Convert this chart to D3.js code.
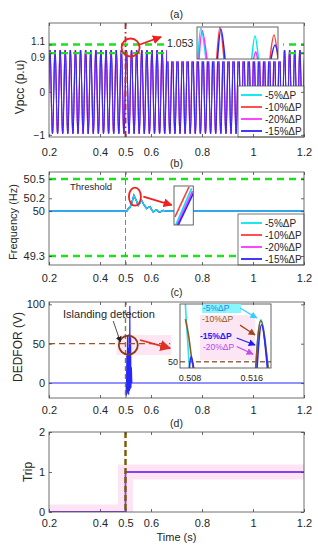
<!DOCTYPE html>
<html lang="en">
<head>
<meta charset="UTF-8">
<title>Islanding detection</title>
<script src="https://cdn.jsdelivr.net/npm/d3@7"></script>
<style>
  body { margin: 0; background: #fff; overflow: hidden; }
  svg text { font-family: "Liberation Sans", Arial, sans-serif; fill: #262626; }
</style>
</head>
<body>
<div id="chart"></div>
<script>
// ---- values ----
const timeTicks = [0.2, 0.4, 0.5, 0.6, 0.8, 1, 1.2];
const seriesNames = ['-5%ΔP', '-10%ΔP', '-20%ΔP', '-15%ΔP'];
const seriesColors = ['#00e6f0', '#ff3c3c', '#ff30ff', '#2626ff'];
const islandTime = 0.5;

// (a) Vpcc, 50 Hz waveform: one sampled cycle and the small lag of each series
const vpccTicks = [-1, 0, 0.9, 1.1];
const vpccLimits = [0.9, 1.1];
const vpccPeriod = 0.02;
const vpccCycle = [0, 0.69, 0.97, 0.69, 0, -0.69, -0.97, -0.69];
const vpccLag = [0.0004, 0.0004, 0.0004, 0.001];
// zoomed peaks in the inset (zoomed time, p.u.)
const zoomA5 = [[[1.2, 1], [4.9, 1.0556], [11, 1]], [[67.5, 1], [71.6, 1.0417], [75.9, 1]]];
const zoomA10 = [[[24.3, 1], [28.4, 1.0575], [33.3, 1]], [[90.1, 1], [95, 1.0435], [100, 1]]];
const zoomA20 = [[[2.5, 1], [6.5, 1.0513], [12.3, 1]], [[69.8, 1], [72.5, 1.0132], [74.7, 1]]];
const zoomA15 = [[[25.3, 1], [29.6, 1.0538], [34.6, 1]], [[91.4, 1], [96.3, 1.0254], [101, 1]]];

// (b) frequency
const freqTicks = [49.3, 50, 50.2, 50.5];
const freqLimits = [49.3, 50.5];
const freqTime = [0.2, 0.505, 0.511, 0.518, 0.526, 0.533, 0.542, 0.55, 0.557, 0.563, 0.572, 0.583,
                  0.59, 0.596, 0.603, 0.609, 0.616, 0.622, 0.629, 0.635, 0.642, 0.648, 0.66, 1.2];
const freqValue = [50, 50, 50.04, 50.06, 50.15, 50.245, 50.17, 50.09, 50.13, 50.17, 50.1, 50.04,
                   50.06, 50.07, 50.02, 49.985, 50.01, 50.02, 49.99, 49.985, 50, 50.01, 50, 50];
// zoomed rising edge in the inset (normalised window)
const zoomB = [
  [[0.09, 0], [0.91, 0.94]],   // -5%
  [[0.05, 0.21], [0.78, 0.98]],// -10%
  [[0.16, 0], [0.96, 0.87]],   // -20%
  [[0.22, 0], [1.0, 0.81]]     // -15%
];

// (c) DEDFOR
const dedTicks = [0, 50, 100];
const dedThreshold = 50;
const dedTime = [0.2, 0.502, 0.5035, 0.505, 0.5065, 0.508, 0.5095, 0.511, 0.5125, 0.514, 0.5155,
                 0.517, 0.5185, 0.52, 0.5215, 0.523, 0.525, 1.2];
const dedValue = [0, 0, -16, 35, -14, 60, -12, 45, -15, 62, -10, 98, -8, 58, -6, 20, 0, 0];
// zoomed inset (s, V)
const zoomC5 = [[[0.5073, 72], [0.5076, 60], [0.50795, 47]], [[0.5165, 47.5], [0.5172, 63.3], [0.51815, 47.5]]];
const zoomC10 = [[[0.5074, 63.5], [0.5078, 58.5], [0.5081, 53], [0.50845, 47.5]], [[0.5165, 47.5], [0.51718, 63], [0.51815, 47.5]]];
const zoomC15 = [[[0.5079, 47.5], [0.50815, 51.6], [0.5085, 47.5]], [[0.51668, 47.5], [0.51728, 61.7], [0.51805, 47.5]]];
const zoomCTicks = [0.508, 0.516];

// (d) trip signal
const tripTicks = [0, 1, 2];
const tripTime = [0.2, 0.5, 0.5, 1.2];
const tripValue = [0, 0, 1, 1];

// ---- layout ----
const W = 318, H = 550;
const svg = d3.select('#chart').append('svg').attr('width', W).attr('height', H);
const x = d3.scaleLinear().domain([0.2, 1.2]).range([49, 304]);
const [X0, X1] = x.range();

const yA = d3.scaleLinear().domain([-1.05, 1.6]).range([137, 23]);
const yB = d3.scaleLinear().domain([49.16, 50.61]).range([265, 172]);
const yC = d3.scaleLinear().domain([-19, 103]).range([398, 302]);
const yD = d3.scaleLinear().domain([0, 2]).range([512, 432]);

const defs = svg.append('defs');
function arrowMarker(id, color, size) {
  defs.append('marker').attr('id', id)
    .attr('viewBox', '0 0 10 10').attr('refX', 9).attr('refY', 5)
    .attr('markerUnits', 'userSpaceOnUse')
    .attr('markerWidth', size).attr('markerHeight', size).attr('orient', 'auto')
    .append('path').attr('d', 'M0,0 L10,5 L0,10 z').attr('fill', color);
}
arrowMarker('ar-red', '#ee2020', 9);
arrowMarker('ar-red2', '#e03020', 11);
arrowMarker('ar-black', '#222', 6);
arrowMarker('ar-cyan', '#33d0ff', 7);
arrowMarker('ar-brown', '#a0461e', 7);
arrowMarker('ar-blue', '#1a1aff', 7);
arrowMarker('ar-mag', '#c050f0', 7);

function clipRect(id, x0, y0, w, h) {
  defs.append('clipPath').attr('id', id).append('rect')
    .attr('x', x0).attr('y', y0).attr('width', w).attr('height', h);
  return `url(#${id})`;
}

function makePanel(id, y) {
  const [b, t] = y.range();
  const g = svg.append('g');
  const plot = g.append('g').attr('clip-path', clipRect('clip-' + id, X0, t, X1 - X0, b - t));
  return { g, plot, y, top: t, bottom: b };
}

function drawAxes(p, yTicks, pad, yFs) {
  const g = p.g.append('g').style('color', '#444');
  const fs = 11;
  g.append('g').attr('transform', `translate(0,${p.bottom})`)
    .call(d3.axisBottom(x).tickValues(timeTicks).tickFormat(d3.format('')).tickSizeInner(-3).tickSizeOuter(0).tickPadding(pad))
    .selectAll('text').attr('font-size', fs);
  g.append('g').attr('transform', `translate(0,${p.top})`)
    .call(d3.axisTop(x).tickValues(timeTicks).tickFormat('').tickSizeInner(-3).tickSizeOuter(0));
  const ly = g.append('g').attr('class', 'yaxis').attr('transform', `translate(${X0},0)`)
    .call(d3.axisLeft(p.y).tickValues(yTicks).tickFormat(d3.format('')).tickSizeInner(-3).tickSizeOuter(0).tickPadding(4));
  ly.selectAll('text').attr('font-size', yFs || fs);
  g.append('g').attr('transform', `translate(${X1},0)`)
    .call(d3.axisRight(p.y).tickValues(yTicks).tickFormat('').tickSizeInner(-3).tickSizeOuter(0));
  g.selectAll('.domain').remove();
  g.selectAll('.tick line').attr('stroke-width', 0.8);
  g.selectAll('g').attr('font-family', null).attr('font-size', null);
  g.append('rect').attr('x', X0).attr('y', p.top).attr('width', X1 - X0).attr('height', p.bottom - p.top)
    .attr('fill', 'none').attr('stroke', '#4d4d4d').attr('stroke-width', 0.8);
  return ly;
}

function title(txt, yy) {
  svg.append('text').attr('x', (X0 + X1) / 2).attr('y', yy).attr('text-anchor', 'middle')
    .attr('dominant-baseline', 'central').attr('font-size', 10.5).text(txt);
}
function yLabel(txt, xx, yy, fs) {
  svg.append('text').attr('transform', `translate(${xx},${yy}) rotate(-90)`)
    .attr('text-anchor', 'middle').attr('dominant-baseline', 'central').attr('font-size', fs).text(txt);
}
function legend(p) {
  const lx = 238, ly = p.bottom - 51;
  const lg = p.g.append('g');
  lg.append('rect').attr('x', lx).attr('y', ly).attr('width', X1 - lx).attr('height', 51)
    .attr('fill', '#fff').attr('stroke', '#555').attr('stroke-width', 0.8);
  seriesNames.forEach((n, i) => {
    const yy = ly + 9 + i * 12;
    lg.append('line').attr('x1', lx + 3).attr('x2', lx + 24).attr('y1', yy).attr('y2', yy)
      .attr('stroke', seriesColors[i]).attr('stroke-width', 1.8);
    lg.append('text').attr('x', lx + 27).attr('y', yy).attr('dominant-baseline', 'central')
      .attr('font-size', 10).text(n);
  });
}
function vMarker(p, color, width, dash) {
  p.plot.append('line').attr('x1', x(islandTime)).attr('x2', x(islandTime))
    .attr('y1', p.top).attr('y2', p.bottom)
    .attr('stroke', color).attr('stroke-width', width).attr('stroke-dasharray', dash);
}
function hLimit(p, v) {
  p.plot.append('line').attr('x1', X0).attr('x2', X1).attr('y1', p.y(v)).attr('y2', p.y(v))
    .attr('stroke', '#1ee01e').attr('stroke-width', 2.4).attr('stroke-dasharray', '7,5');
}

// ================= (a) =================
title('(a)', 14);
const pA = makePanel('a', yA);
const nCycles = Math.round((1.2 - 0.2) / vpccPeriod) + 1;
vpccLag.forEach((lag, s) => {
  const pts = [];
  for (let k = 0; k < nCycles; k++) {
    vpccCycle.forEach((v, i) => {
      pts.push([0.2 + lag + k * vpccPeriod + i * vpccPeriod / vpccCycle.length - 0.002, v]);
    });
  }
  pA.plot.append('path').datum(pts)
    .attr('d', d3.line().x(d => x(d[0])).y(d => yA(d[1])).curve(d3.curveCardinal))
    .attr('fill', 'none').attr('stroke', seriesColors[s]).attr('stroke-width', 1.0);
});
vpccLimits.forEach(v => hLimit(pA, v));
vMarker(pA, '#b82525', 1.8, '6,3,1.5,3');
// background patch behind the zoom annotation
pA.plot.append('rect').attr('x', x(0.663)).attr('y', pA.top)
  .attr('width', x(1.118) - x(0.663)).attr('height', yA(0.71) - pA.top).attr('fill', '#fff');
// zoom inset
const xAin = d3.scaleLinear().domain([0, 100]).range([197, 278]);
const yAin = d3.scaleLinear().domain([1.0, 1.058]).range([59, 27]);
const insA = pA.g.append('g');
insA.append('rect').attr('x', 197).attr('y', 27).attr('width', 81).attr('height', 32).attr('fill', '#fff');
const insAplot = insA.append('g').attr('clip-path', clipRect('clip-ia', 197, 27, 81, 32));
const humpLine = (sx, sy) => d3.line().x(d => sx(d[0])).y(d => sy(d[1])).curve(d3.curveNatural);
[zoomA5, zoomA10, zoomA20, zoomA15].forEach((humps, s) => {
  humps.forEach(h => insAplot.append('path').datum(h).attr('d', humpLine(xAin, yAin))
    .attr('fill', 'none').attr('stroke', seriesColors[s]).attr('stroke-width', 1.5));
});
insA.append('rect').attr('x', 197).attr('y', 27).attr('width', 81).attr('height', 32)
  .attr('fill', 'none').attr('stroke', '#555').attr('stroke-width', 0.9);
pA.g.append('circle').attr('cx', x(0.52)).attr('cy', yA(1.03)).attr('r', 9)
  .attr('fill', 'none').attr('stroke', '#ee2020').attr('stroke-width', 1.8);
pA.g.append('line').attr('x1', x(0.557)).attr('y1', yA(1.10)).attr('x2', x(0.639)).attr('y2', yA(1.276))
  .attr('stroke', '#ee2020').attr('stroke-width', 1.8).attr('marker-end', 'url(#ar-red)');
pA.g.append('text').attr('x', x(0.663)).attr('y', yA(1.14)).attr('dominant-baseline', 'central')
  .attr('font-size', 10.5).attr('fill', '#333').text('1.053');
legend(pA);
const axA = drawAxes(pA, vpccTicks, 11, 10);
// nudge the two close limit labels apart a little
axA.selectAll('.tick text').attr('dy', d => d === 1.1 ? '-0.05em' : d === 0.9 ? '0.7em' : '0.32em');
yLabel('Vpcc (p.u)', 20, 87, 12);

// ================= (b) =================
title('(b)', 163);
const pB = makePanel('b', yB);
freqLimits.forEach(v => hLimit(pB, v));
vMarker(pB, '#d9603b', 1, '5,3');
const freqLine = d3.line().x((d, i) => x(freqTime[i])).y(d => yB(d));
[1, 2, 3, 0].forEach(s => {
  pB.plot.append('path').datum(freqValue).attr('d', freqLine)
    .attr('fill', 'none').attr('stroke', seriesColors[s]).attr('stroke-width', 1.3);
});
pB.g.append('text').attr('x', x(0.282)).attr('y', yB(50.33)).attr('font-size', 9.5).text('Threshold');
pB.g.append('ellipse').attr('cx', x(0.537)).attr('cy', yB(50.225)).attr('rx', 6).attr('ry', 9)
  .attr('fill', 'none').attr('stroke', '#ee2020').attr('stroke-width', 1.8);
pB.g.append('line').attr('x1', x(0.57)).attr('y1', yB(50.225)).attr('x2', x(0.681)).attr('y2', yB(50.095))
  .attr('stroke', '#ee2020').attr('stroke-width', 1.8).attr('marker-end', 'url(#ar-red)');
const xBin = d3.scaleLinear().domain([0, 1]).range([174, 193.3]);
const yBin = d3.scaleLinear().domain([0, 1]).range([225, 186]);
pB.g.append('rect').attr('x', 174).attr('y', 186).attr('width', 19.3).attr('height', 39).attr('fill', '#fff');
const insB = pB.g.append('g').attr('clip-path', clipRect('clip-ib', 174, 186, 19.3, 39));
[1, 0, 2, 3].forEach(s => insB.append('path').datum(zoomB[s])
  .attr('d', d3.line().x(d => xBin(d[0])).y(d => yBin(d[1])))
  .attr('stroke', seriesColors[s]).attr('stroke-width', 1.6).attr('fill', 'none'));
pB.g.append('rect').attr('x', 174).attr('y', 186).attr('width', 19.3).attr('height', 39)
  .attr('fill', 'none').attr('stroke', '#555').attr('stroke-width', 0.9);
legend(pB);
drawAxes(pB, freqTicks, 9);
yLabel('Frequency (Hz)', 13, 222, 11);

// ================= (c) =================
title('(c)', 292);
const pC = makePanel('c', yC);
pC.plot.append('rect').attr('x', x(0.465)).attr('y', yC(61)).attr('width', x(0.68) - x(0.465))
  .attr('height', yC(35.6) - yC(61)).attr('fill', '#fce6f3');
pC.plot.append('path').datum(dedValue)
  .attr('d', d3.line().x((d, i) => x(dedTime[i])).y(d => yC(d)))
  .attr('fill', 'none').attr('stroke', seriesColors[3]).attr('stroke-width', 1.1);
vMarker(pC, '#8b7d3a', 1.4, '5,3');
pC.plot.append('line').attr('x1', X0).attr('x2', x(0.675)).attr('y1', yC(dedThreshold)).attr('y2', yC(dedThreshold))
  .attr('stroke', '#a0522d').attr('stroke-width', 1.2).attr('stroke-dasharray', '6,4');
pC.g.append('circle').attr('cx', x(0.511)).attr('cy', yC(48.3)).attr('r', 9.5)
  .attr('fill', 'none').attr('stroke', '#8b3a12').attr('stroke-width', 1.8);
pC.g.append('line').attr('x1', x(0.557)).attr('y1', yC(54.7)).attr('x2', x(0.675)).attr('y2', yC(44.2))
  .attr('stroke', '#e03020').attr('stroke-width', 1.8).attr('marker-end', 'url(#ar-red2)');
pC.g.append('line').attr('x1', x(0.452)).attr('y1', yC(78.8)).attr('x2', x(0.48)).attr('y2', yC(52.2))
  .attr('stroke', '#222').attr('stroke-width', 0.8).attr('marker-end', 'url(#ar-black)');
pC.g.append('text').attr('x', x(0.255)).attr('y', yC(82.6)).attr('font-size', 11).text('Islanding detection');
// zoom inset
const xCin = d3.scaleLinear().domain([0.5067, 0.5185]).range([180, 271]);
const yCin = d3.scaleLinear().domain([48, 68.3]).range([368, 304]);
const insC = pC.g.append('g');
insC.append('rect').attr('x', 180).attr('y', 304).attr('width', 91).attr('height', 64).attr('fill', '#fff');
insC.append('rect').attr('x', xCin(0.50929)).attr('y', yCin(64.8)).attr('width', xCin(0.51643) - xCin(0.50929))
  .attr('height', yCin(50.5) - yCin(64.8)).attr('fill', '#fce6f3');
const insCplot = insC.append('g').attr('clip-path', clipRect('clip-ic', 180, 304, 91, 64));
insCplot.append('line').attr('x1', 180).attr('x2', 271).attr('y1', yCin(dedThreshold)).attr('y2', yCin(dedThreshold))
  .attr('stroke', '#9a6a4a').attr('stroke-width', 1.4).attr('stroke-dasharray', '5,3');
[[zoomC5, '#33e0f0'], [zoomC10, '#8b5a1e'], [zoomC15, '#2a2aff']].forEach(([humps, c]) => {
  humps.forEach(h => insCplot.append('path').datum(h).attr('d', humpLine(xCin, yCin))
    .attr('fill', 'none').attr('stroke', c).attr('stroke-width', 1.6));
});
insC.append('rect').attr('x', 180).attr('y', 304).attr('width', 91).attr('height', 64)
  .attr('fill', 'none').attr('stroke', '#555').attr('stroke-width', 0.9);
zoomCTicks.forEach(t => insC.append('text').attr('x', xCin(t)).attr('y', 378).attr('text-anchor', 'middle')
  .attr('dominant-baseline', 'central').attr('font-size', 9).attr('fill', '#444').text(t.toFixed(3)));
insC.append('text').attr('x', 178).attr('y', yCin(dedThreshold)).attr('text-anchor', 'end')
  .attr('dominant-baseline', 'central').attr('font-size', 9).attr('fill', '#444').text('50');
// inset labels
insC.append('rect').attr('x', xCin(0.50955)).attr('y', yCin(68.3)).attr('width', xCin(0.5146) - xCin(0.50955))
  .attr('height', 9).attr('fill', '#86f6ff');
const insLabels = [
  ['-5%ΔP', 0.50968, 67.0, '#2f7fe0', 'normal', [0.51448, 67.0, 0.51665, 63.9], 'ar-cyan', '#33d0ff'],
  ['-10%ΔP', 0.50955, 63.6, '#8b5a1e', 'normal', [0.51448, 61.6, 0.51643, 58.5], 'ar-brown', '#a0461e'],
  ['-15%ΔP', 0.50929, 58.1, '#1a1aff', 'bold', [0.51405, 57.5, 0.51643, 55.3], 'ar-blue', '#1a1aff'],
  ['-20%ΔP', 0.50968, 54.8, '#c040f0', 'normal', [0.51405, 54.8, 0.51617, 52.4], 'ar-mag', '#c050f0']
];
insLabels.forEach(([txt, tx, ty, col, fw, a, mk, ac]) => {
  insC.append('text').attr('x', xCin(tx)).attr('y', yCin(ty)).attr('dominant-baseline', 'central')
    .attr('font-size', 8.5).attr('font-weight', fw).style('fill', col).text(txt);
  insC.append('line').attr('x1', xCin(a[0])).attr('y1', yCin(a[1])).attr('x2', xCin(a[2])).attr('y2', yCin(a[3]))
    .attr('stroke', ac).attr('stroke-width', 1.2).attr('marker-end', `url(#${mk})`);
});
drawAxes(pC, dedTicks, 8);
yLabel('DEDFOR (V)', 18, 347, 12);

// ================= (d) =================
title('(d)', 423);
const pD = makePanel('d', yD);
const tripLine = d3.line().x((d, i) => x(tripTime[i])).y(d => yD(d));
pD.plot.append('rect').attr('x', x(0.493)).attr('y', pD.top).attr('width', x(0.5) - x(0.493))
  .attr('height', pD.bottom - pD.top).attr('fill', '#fdeaf7');
pD.plot.append('path').datum(tripValue).attr('d', tripLine)
  .attr('fill', 'none').attr('stroke', '#fce4f5').attr('stroke-width', 15);
pD.plot.append('path').datum(tripValue).attr('d', tripLine)
  .attr('fill', 'none').attr('stroke', '#8a3ff0').attr('stroke-width', 1.8);
vMarker(pD, '#7a5c00', 2.4, '6,3');
drawAxes(pD, tripTicks, 7);
yLabel('Trip', 28, 472, 12);
svg.append('text').attr('x', (X0 + X1) / 2).attr('y', 537).attr('text-anchor', 'middle')
  .attr('dominant-baseline', 'central').attr('font-size', 11).text('Time (s)');
</script>
</body>
</html>
